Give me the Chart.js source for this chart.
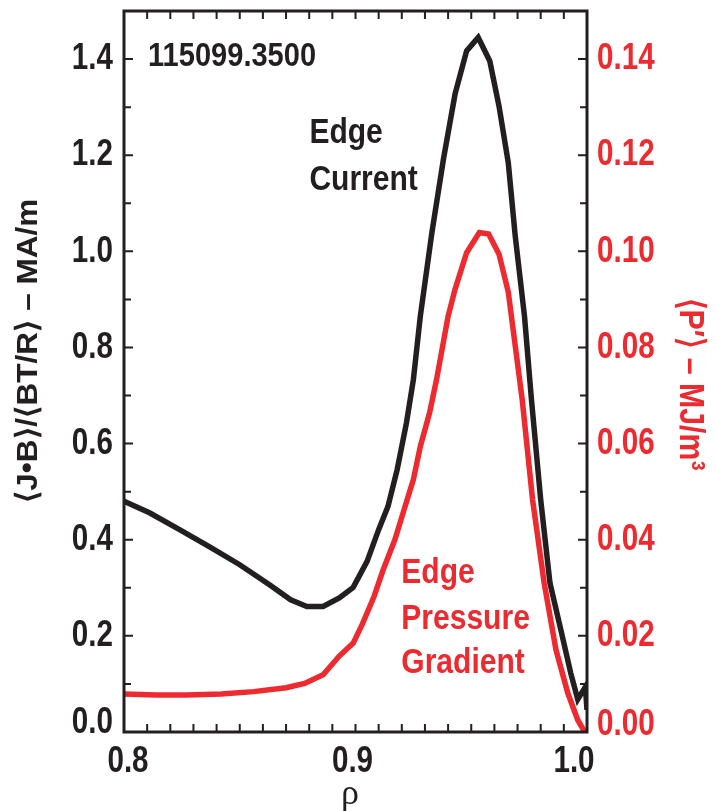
<!DOCTYPE html>
<html>
<head>
<meta charset="utf-8">
<script src="https://cdn.jsdelivr.net/npm/chart.js@4/dist/chart.umd.min.js"></script>
<style>
  body { margin: 0; background: #fff; }
  #wrap { width: 717px; height: 811px; }
</style>
</head>
<body>
<div id="wrap"><canvas id="c" width="717" height="811"></canvas></div>
<script>
// edge current, left axis (MA/m)
const currentRho = [0.800, 0.811, 0.824, 0.837, 0.850, 0.863, 0.872, 0.879, 0.886, 0.893, 0.899,
  0.905, 0.910, 0.914, 0.918, 0.922, 0.925, 0.928, 0.933, 0.938, 0.943, 0.948, 0.953, 0.958,
  0.962, 0.966, 0.969, 0.973, 0.976, 0.980, 0.984, 0.989, 0.993, 0.996, 0.9993, 1.000];
const currentVals = [0.480, 0.456, 0.421, 0.385, 0.348, 0.306, 0.275, 0.261, 0.261, 0.279, 0.301,
  0.355, 0.421, 0.469, 0.546, 0.643, 0.733, 0.865, 1.039, 1.192, 1.327, 1.417, 1.445, 1.396,
  1.302, 1.184, 1.032, 0.865, 0.692, 0.483, 0.310, 0.206, 0.122, 0.068, 0.094, 0.046];

// edge pressure gradient, right axis (MJ/m^3)
const pressureRho = [0.800, 0.814, 0.827, 0.842, 0.856, 0.870, 0.878, 0.886, 0.893, 0.899, 0.903,
  0.908, 0.912, 0.917, 0.921, 0.925, 0.928, 0.932, 0.935, 0.940, 0.943, 0.948, 0.9535, 0.9575,
  0.962, 0.966, 0.972, 0.9765, 0.9815, 0.9866, 0.9917, 0.996, 0.999];
const pressureVals = [0.0079, 0.0077, 0.0077, 0.0079, 0.0084, 0.0092, 0.0101, 0.0119, 0.0158, 0.0185, 0.0225,
  0.0282, 0.0338, 0.0400, 0.0463, 0.0525, 0.0594, 0.0664, 0.0733, 0.0865, 0.0921, 0.0997, 0.1039, 0.1036,
  0.0994, 0.0915, 0.0692, 0.0483, 0.0310, 0.0171, 0.0081, 0.0025, 0.0];

const rhoTicks = [0.8, 0.9, 1.0];
const rhoTickLabels = ["0.8", "0.9", "1.0"];
const jbTicks = [0, 0.2, 0.4, 0.6, 0.8, 1.0, 1.2, 1.4];
const jbTickLabels = ["0.0", "0.2", "0.4", "0.6", "0.8", "1.0", "1.2", "1.4"];
const pTicks = [0, 0.02, 0.04, 0.06, 0.08, 0.10, 0.12, 0.14];
const pTickLabels = ["0.00", "0.02", "0.04", "0.06", "0.08", "0.10", "0.12", "0.14"];

const INK = "#231f20";
const RED = "#ed2a30";
const SANS = "'Liberation Sans', Arial, sans-serif";

const toPoints = (xs, ys) => xs.map((x, i) => ({ x: x, y: ys[i] }));

// canvas has no condensed Helvetica here, so squeeze Liberation Sans Bold
function drawText(ctx, s, x, y, o) {
  ctx.save();
  ctx.translate(x, y);
  if (o.rotate) ctx.rotate(o.rotate);
  ctx.font = (o.weight || "bold") + " " + o.size + "px " + (o.family || SANS);
  let sx = o.sx || 1;
  if (o.fit) sx = Math.max(0.85, Math.min(1.05, o.fit / ctx.measureText(s).width));
  ctx.scale(sx, 1);
  ctx.fillStyle = o.color || INK;
  ctx.textAlign = o.align || "left";
  ctx.textBaseline = o.baseline || "alphabetic";
  ctx.fillText(s, 0, 0);
  ctx.restore();
}

const framePlugin = {
  id: "frame",
  afterDraw(chart) {
    const ctx = chart.ctx;
    const a = chart.chartArea;
    const xs = chart.scales.x, ys = chart.scales.y, ps = chart.scales.y1;
    ctx.save();
    ctx.strokeStyle = INK;
    ctx.lineWidth = 2;
    ctx.beginPath();
    for (let i = 1; i < 20; i++) {
      const px = xs.getPixelForValue(0.8 + i * 0.01);
      ctx.moveTo(px, a.bottom); ctx.lineTo(px, a.bottom - 8);
      ctx.moveTo(px, a.top); ctx.lineTo(px, a.top + 8);
    }
    for (let i = 1; i < 15; i++) {
      const py = ys.getPixelForValue(i * 0.1);
      const len = i % 2 === 0 ? 9 : 7;
      ctx.moveTo(a.left, py); ctx.lineTo(a.left + len, py);
      ctx.moveTo(a.right, py); ctx.lineTo(a.right - len, py);
    }
    ctx.stroke();
    ctx.lineWidth = 3;
    ctx.strokeRect(a.left, a.top, a.right - a.left, a.bottom - a.top);
    ctx.restore();

    // tick labels
    const tick = { size: 37, sx: 0.8, baseline: "middle" };
    jbTicks.forEach((v, i) => {
      const py = Math.min(ys.getPixelForValue(v), a.bottom - 9);
      drawText(ctx, jbTickLabels[i], a.left - 11, py, Object.assign({ align: "right" }, tick));
    });
    pTicks.forEach((v, i) => {
      const py = Math.min(ps.getPixelForValue(v), a.bottom - 7);
      drawText(ctx, pTickLabels[i], a.right + 10, py, Object.assign({ align: "left", color: RED }, tick));
    });
    rhoTicks.forEach((v, i) => {
      const px = Math.max(a.left + 4, Math.min(xs.getPixelForValue(v) - 3, a.right - 13));
      drawText(ctx, rhoTickLabels[i], px, a.bottom + 40, { size: 37, sx: 0.8, align: "center" });
    });

    // annotations
    const note = (s, r, v, color) =>
      drawText(ctx, s, xs.getPixelForValue(r), ys.getPixelForValue(v), { size: 34.5, sx: 0.87, color: color });
    drawText(ctx, "115099.3500", xs.getPixelForValue(0.8104), ys.getPixelForValue(1.386), { size: 33, sx: 0.88 });
    note("Edge", 0.8801, 1.2254, INK);
    note("Current", 0.8801, 1.1276, INK);
    note("Edge", 0.9198, 0.310, RED);
    note("Pressure", 0.9198, 0.2143, RED);
    note("Gradient", 0.9198, 0.1227, RED);

    // axis titles
    drawText(ctx, "\u27E8J\u2022B\u27E9/\u27E8BT/R\u27E9 \u2013 MA/m", 37, 351,
      { size: 30, rotate: -Math.PI / 2, align: "center", fit: 312 });
    drawText(ctx, "\u27E8P\u2032\u27E9 \u2013 MJ/m\u00B3", 680, 384,
      { size: 35, rotate: Math.PI / 2, align: "center", fit: 173, color: RED });
    drawText(ctx, "\u03C1", 350, 804, { size: 36, weight: "normal", family: "'Liberation Serif', serif", align: "center" });
  }
};

new Chart(document.getElementById("c"), {
  type: "line",
  data: {
    datasets: [
      {
        label: "Edge Pressure Gradient",
        data: toPoints(pressureRho, pressureVals),
        yAxisID: "y1",
        borderColor: RED,
        borderWidth: 5.5,
        pointRadius: 0,
        tension: 0,
        order: 0
      },
      {
        label: "Edge Current",
        data: toPoints(currentRho, currentVals),
        yAxisID: "y",
        borderColor: INK,
        borderWidth: 5.5,
        pointRadius: 0,
        tension: 0,
        order: 1
      }
    ]
  },
  options: {
    responsive: false,
    animation: false,
    layout: { padding: { top: 11, left: 0, right: 0, bottom: 0 } },
    plugins: { legend: { display: false }, tooltip: { enabled: false } },
    scales: {
      x: {
        type: "linear",
        min: 0.8,
        max: 1.0,
        grid: { display: false, drawTicks: false },
        border: { display: false },
        ticks: { display: false },
        afterFit: s => { s.height = 79; s.paddingLeft = 0; s.paddingRight = 0; }
      },
      y: {
        position: "left",
        min: 0,
        max: 1.5,
        grid: { display: false, drawTicks: false },
        border: { display: false },
        ticks: { display: false },
        afterFit: s => { s.width = 124; s.paddingTop = 0; s.paddingBottom = 0; }
      },
      y1: {
        position: "right",
        min: 0,
        max: 0.15,
        grid: { display: false, drawTicks: false },
        border: { display: false },
        ticks: { display: false },
        afterFit: s => { s.width = 130; s.paddingTop = 0; s.paddingBottom = 0; }
      }
    }
  },
  plugins: [framePlugin]
});
</script>
</body>
</html>
